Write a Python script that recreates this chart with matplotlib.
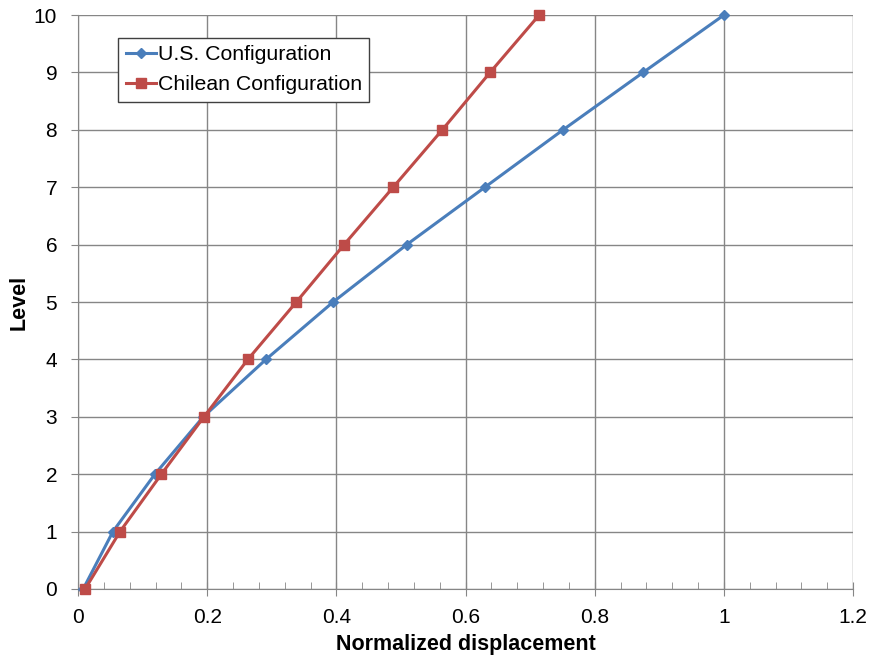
import matplotlib.pyplot as plt
from matplotlib.ticker import MultipleLocator

plt.rcParams['font.family'] = ['Liberation Sans', 'DejaVu Sans']

# Datos
niveles = [0, 1, 2, 3, 4, 5, 6, 7, 8, 9, 10]
desp_us = [0.008, 0.054, 0.119, 0.194, 0.291, 0.395, 0.509, 0.630, 0.751, 0.875, 1.0]
desp_chile = [0.011, 0.065, 0.129, 0.195, 0.263, 0.338, 0.412, 0.488, 0.564, 0.638, 0.714]

fig = plt.figure(figsize=(8.69, 6.55), dpi=100)
ax = fig.add_axes([0.0898, 0.1008, 0.8918, 0.8762])

ax.plot(desp_us, niveles, color='#4a7ebb', lw=2.2, marker='D', ms=5,
        label="U.S. Configuration", clip_on=False, zorder=3)
ax.plot(desp_chile, niveles, color='#be4b48', lw=2.2, marker='s', ms=7,
        label="Chilean Configuration", clip_on=False, zorder=3)

ax.set_xlim(0, 1.2)
ax.set_ylim(0, 10)
ax.xaxis.set_minor_locator(MultipleLocator(0.04))
ax.yaxis.set_major_locator(MultipleLocator(1))
ax.set_xticks([0, 0.2, 0.4, 0.6, 0.8, 1.0, 1.2])
ax.set_xticklabels(["0", "0.2", "0.4", "0.6", "0.8", "1", "1.2"])

ax.grid(True, which='major', color='#868686', lw=1)
ax.set_axisbelow(True)
for s in ['top', 'right']:
    ax.spines[s].set_visible(False)
for s in ['left', 'bottom']:
    ax.spines[s].set_color('#868686')
ax.tick_params(which='major', axis='x', direction='inout', length=10, color='#868686', labelsize=15, pad=9)
ax.tick_params(which='minor', axis='x', direction='in', length=5, color='#868686')
ax.tick_params(axis='y', direction='out', length=5, color='#868686', labelsize=15, pad=10)

ax.set_xlabel("Normalized displacement", fontsize=15.5, fontweight='bold', labelpad=5)
ax.set_ylabel("Level", fontsize=15.5, fontweight='bold', labelpad=3)

leg = ax.legend(loc='upper left', bbox_to_anchor=(0.052, 0.96), fontsize=15.3,
                fancybox=False, edgecolor='#404040', handlelength=1.4,
                handletextpad=0.1, borderpad=0.35, labelspacing=0.5, framealpha=1,
                borderaxespad=0)
leg.get_frame().set_linewidth(1)

plt.savefig("out.png", dpi=100)
plt.close()
